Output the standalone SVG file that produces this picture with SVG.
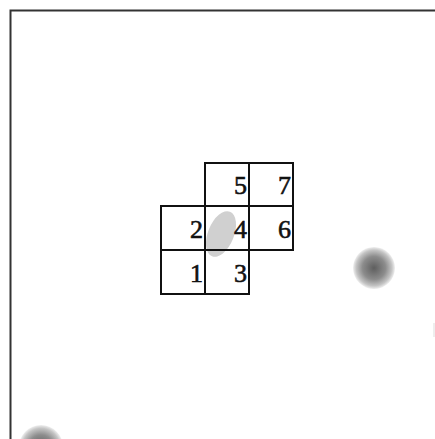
<svg xmlns="http://www.w3.org/2000/svg" width="435" height="439" viewBox="0 0 435 439">
<defs>
<radialGradient id="spot" cx="0.5" cy="0.5" r="0.5">
<stop offset="0" stop-color="#5e5e5e"/>
<stop offset="0.55" stop-color="#8c8c8c"/>
<stop offset="0.85" stop-color="#c4c4c4"/>
<stop offset="1" stop-color="#f0f0f0"/>
</radialGradient>
<style>
.cell{fill:none;stroke:#111;stroke-width:2}
.num{font-family:"Liberation Serif",serif;font-size:26px;fill:#111;stroke:#111;stroke-width:0.6;text-anchor:end}
</style>
</defs>
<rect width="435" height="439" fill="#fff"/>
<path d="M10.5 450 V10.5 H450" fill="none" stroke="#333" stroke-width="2"/>
<circle cx="374" cy="268" r="21" fill="url(#spot)"/>
<circle cx="41" cy="447" r="22" fill="url(#spot)"/>
<line x1="434" y1="323" x2="434" y2="337" stroke="#ddd" stroke-width="1"/>
<ellipse cx="221" cy="234" rx="13" ry="24" transform="rotate(22 221 234)" fill="#d0d0d0"/>
<g id="c5"><rect class="cell" x="205" y="163" width="44" height="43"/><text class="num" x="247" y="194">5</text></g>
<g id="c7"><rect class="cell" x="249" y="163" width="44" height="43"/><text class="num" x="291" y="194">7</text></g>
<g id="c2"><rect class="cell" x="161" y="206" width="44" height="44"/><text class="num" x="203" y="238">2</text></g>
<g id="c4"><rect class="cell" x="205" y="206" width="44" height="44"/><text class="num" x="247" y="238">4</text></g>
<g id="c6"><rect class="cell" x="249" y="206" width="44" height="44"/><text class="num" x="291" y="238">6</text></g>
<g id="c1"><rect class="cell" x="161" y="250" width="44" height="44"/><text class="num" x="203" y="282">1</text></g>
<g id="c3"><rect class="cell" x="205" y="250" width="44" height="44"/><text class="num" x="247" y="282">3</text></g>
<g id="connectors"></g>
</svg>
